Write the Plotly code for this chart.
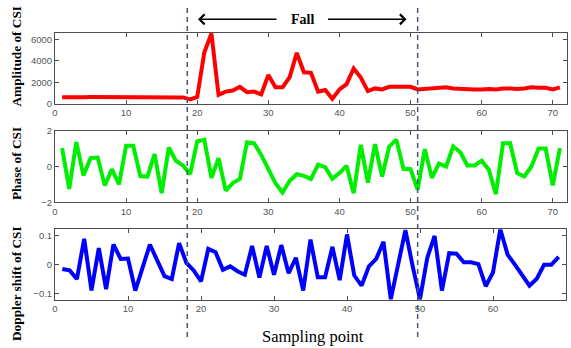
import plotly.graph_objects as go

# Sampling points for each trace
amp_x = list(range(1, 72))
phase_x = list(range(1, 72))
dop_x = list(range(1, 70))

amplitude = [620, 600, 570, 630, 640, 640, 630, 650, 610, 580,
             600, 610, 570, 620, 620, 610, 620, 610, 420, 650,
             4800, 6550, 850, 1150, 1250, 1600, 1100, 1150, 900, 2700,
             1550, 1550, 2500, 4750, 2950, 2900, 1150, 1300, 480, 1350,
             1850, 3300, 2450, 1200, 1450, 1350, 1600, 1600, 1600, 1600,
             1350, 1400, 1400, 1500, 1550, 1450, 1400, 1350, 1350, 1350,
             1400, 1350, 1450, 1450, 1400, 1450, 1550, 1500, 1500, 1350,
             1550]

phase = [1.03, -1.25, 1.36, -0.5, 0.47, 0.5, -1.06, -0.15, -1.0, 1.16,
         1.16, -0.53, -0.56, 0.69, -1.49, 1.06, 0.32, 0.06, -0.43, 1.4,
         1.5, -0.63, 0.47, -1.35, -0.93, -0.69, 1.36, 1.3, 0.65, -0.1,
         -0.93, -1.45, -0.8, -0.43, -0.52, -0.69, 0.1, -0.04, -0.69, -0.37,
         0.04, -1.49, 1.21, -0.9, 1.25, -0.56, 1.12, 1.5, -0.13, -0.15,
         -1.3, 0.97, -0.63, 0.17, 0.0, 1.12, 0.8, 0.06, 0.06, 0.32,
         -0.18, -1.54, 1.3, 1.3, -0.37, -0.56, 0.0, 1.0, 1.0, -1.06,
         1.03]

doppler = [-0.015, -0.02, -0.05, 0.09, -0.09, 0.058, -0.085, 0.07, 0.02, 0.021,
           -0.09, -0.01, 0.07, 0.015, -0.04, -0.05, 0.075, 0.006, -0.02, -0.058,
           0.055, 0.043, -0.018, -0.006, -0.023, -0.035, 0.065, -0.045, 0.065, -0.035,
           0.068, -0.03, 0.024, -0.09, 0.087, -0.044, -0.044, 0.062, -0.054, 0.105,
           -0.038, -0.073, -0.006, 0.02, 0.08, -0.12, 0.0, 0.12, -0.006, -0.12,
           0.024, 0.1, -0.09, 0.04, 0.038, 0.008, 0.008, 0.002, -0.075, -0.027,
           0.123, 0.035, 0.0, -0.037, -0.073, -0.049, 0.0, 0.0, 0.027]

amp_ticks = [0, 2000, 4000, 6000]
phase_ticks = [-2, 0, 2]
dop_ticks = [-0.1, 0, 0.1]
x_ticks = [0, 10, 20, 30, 40, 50, 60, 70]

# Start and end of the fall event, in sampling points
fall_bounds = [18.6, 51.0]

W, H = 571, 348
tick_font = dict(family="Liberation Sans, Arial", size=9.5, color="#555555")
title_font = dict(family="Liberation Serif, Times New Roman", size=13.3, color="black")
frame = "#4d4d4d"

fig = go.Figure()
fig.add_trace(go.Scatter(x=amp_x, y=amplitude, mode="lines",
                         line=dict(color="#ff0000", width=4), xaxis="x", yaxis="y"))
fig.add_trace(go.Scatter(x=phase_x, y=phase, mode="lines",
                         line=dict(color="#00ee00", width=4), xaxis="x2", yaxis="y2"))
fig.add_trace(go.Scatter(x=dop_x, y=doppler, mode="lines",
                         line=dict(color="#0000ff", width=4), xaxis="x3", yaxis="y3"))


def px_x(p):
    return p / W


def px_y(p):
    return 1 - p / H


axis_common = dict(showgrid=False, zeroline=False, showline=True, linecolor=frame,
                   linewidth=1, mirror="ticks", ticks="inside", ticklen=4,
                   tickcolor=frame, tickfont=tick_font, automargin=False)

fig.update_layout(
    width=W, height=H,
    margin=dict(l=0, r=0, t=0, b=0),
    paper_bgcolor="white", plot_bgcolor="white",
    showlegend=False,
    xaxis=dict(domain=[px_x(55), px_x(567)], range=[0, 72], tickvals=x_ticks,
               anchor="y", **axis_common),
    yaxis=dict(domain=[px_y(104), px_y(33)], range=[0, 6600], tickvals=amp_ticks,
               anchor="x", **axis_common),
    xaxis2=dict(domain=[px_x(55), px_x(567)], range=[0, 72], tickvals=x_ticks,
                anchor="y2", **axis_common),
    yaxis2=dict(domain=[px_y(202.3), px_y(130.7)], range=[-2, 2], tickvals=phase_ticks,
                anchor="x2", **axis_common),
    xaxis3=dict(domain=[px_x(55), px_x(566)], range=[0, 70], tickvals=x_ticks,
                anchor="y3", **axis_common),
    yaxis3=dict(domain=[px_y(300), px_y(229.3)], range=[-0.123, 0.123], tickvals=dop_ticks,
                anchor="x3", **axis_common),
)

# Dashed markers for the fall window, spanning all panels
for xb in fall_bounds:
    fig.add_shape(type="line", xref="x", yref="paper", x0=xb, x1=xb,
                  y0=px_y(337), y1=px_y(8),
                  line=dict(color="#46587a", width=1.5, dash="5px,4px"))

# Axis titles
titles = [("Amplitude of CSI", 56.5), ("Phase of CSI", 164), ("Doppler shift of CSI", 284)]
for text, yc in titles:
    fig.add_annotation(text="<b>%s</b>" % text, xref="paper", yref="paper",
                       x=px_x(16), y=px_y(yc), showarrow=False, textangle=-90,
                       font=title_font, xanchor="center", yanchor="middle")

fig.add_annotation(text="Sampling point", xref="paper", yref="paper",
                   x=px_x(313), y=px_y(336.5), showarrow=False,
                   font=dict(family="Liberation Serif, Times New Roman", size=16.5, color="black"),
                   xanchor="center", yanchor="middle")

# "Fall" label with arrows pointing to both window edges
fig.add_annotation(text="<b>Fall</b>", xref="paper", yref="paper",
                   x=px_x(302.5), y=px_y(19), showarrow=False,
                   font=dict(family="Liberation Serif, Times New Roman", size=14, color="black"),
                   xanchor="center", yanchor="middle")
fig.add_annotation(text="", xref="paper", yref="paper", x=px_x(198), y=px_y(19.3),
                   ax=80, ay=0, showarrow=True, arrowhead=4, arrowsize=1.3,
                   arrowwidth=1.5, arrowcolor="black")
fig.add_annotation(text="", xref="paper", yref="paper", x=px_x(406.5), y=px_y(19.3),
                   ax=-80, ay=0, showarrow=True, arrowhead=4, arrowsize=1.3,
                   arrowwidth=1.5, arrowcolor="black")

fig.write_html("out.html")
